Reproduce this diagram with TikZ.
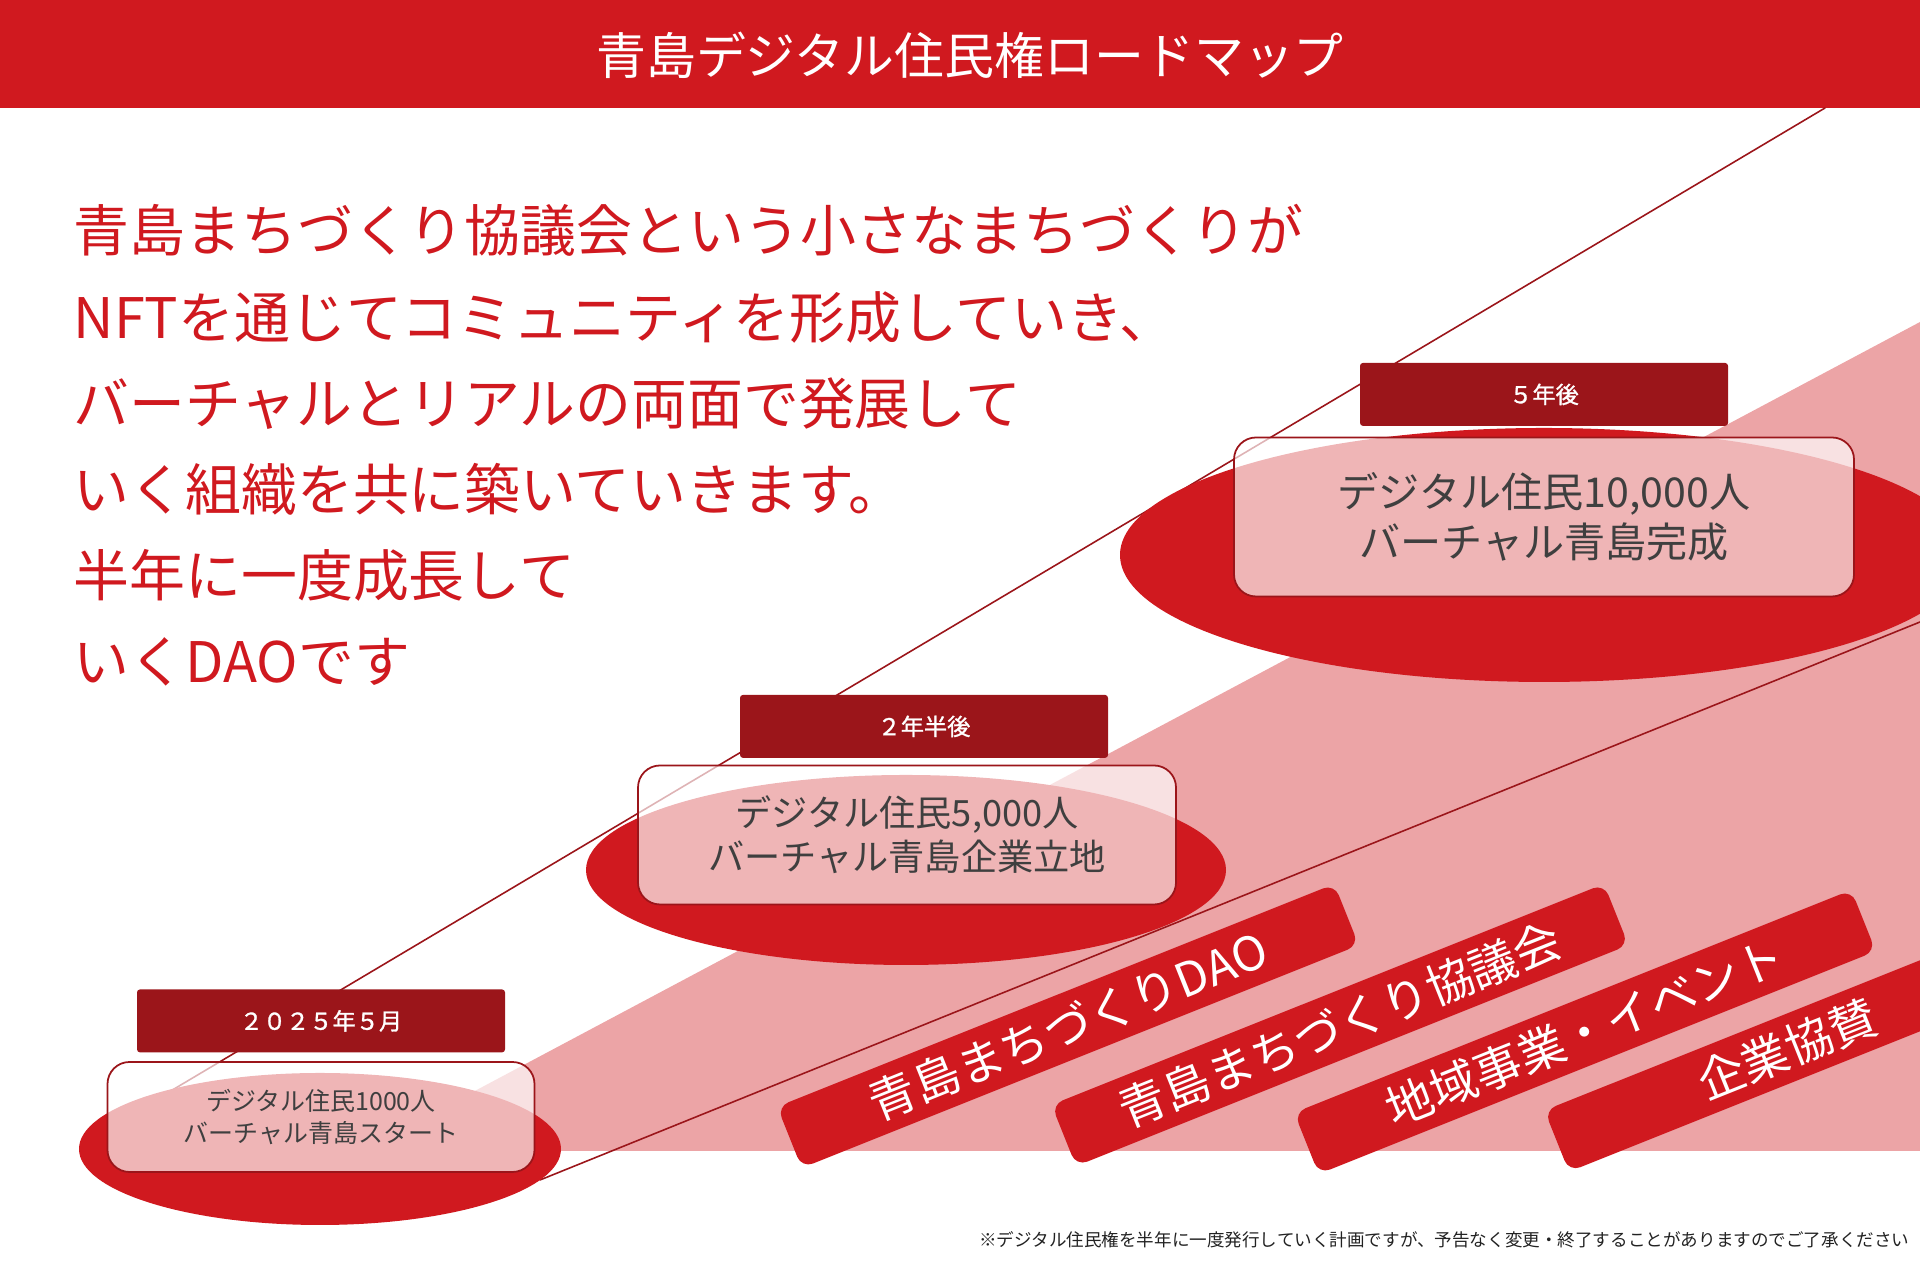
\documentclass[tikz,border=0pt]{standalone}
\usepackage{fontspec}
\setmainfont{Noto Sans CJK JP}
\newfontfamily\jpbold[FakeBold=1.2]{Noto Sans CJK JP}
\usetikzlibrary{positioning,shapes.geometric}
\definecolor{brand}{HTML}{D0191F}
\definecolor{deep}{HTML}{9B151A}
\definecolor{blush}{HTML}{ECA4A6}
\definecolor{ink}{HTML}{3F3F3F}
\definecolor{note}{HTML}{222222}
\tikzset{
  figbase/.style={
    line cap=round,
    line join=round,
  },
  guide/.style={draw=deep, line width=0.45pt},
  disc/.style={ellipse, fill=brand, draw=none, inner sep=0pt},
  panel/.style={
    draw=deep, line width=0.5pt,
    fill=white, fill opacity=0.68, text opacity=1,
    rounded corners=0.22cm,
    inner sep=0pt,
    align=center,
    text=ink,
  },
  stamp/.style={
    fill=deep, draw=none,
    rounded corners=0.03cm,
    inner sep=0pt,
    minimum width=3.68cm, minimum height=0.63cm,
    text=white,
    font=\jpbold\fontsize{6.6}{8}\selectfont,
  },
  ribbon/.style={
    fill=brand, draw=none,
    rounded corners=0.12cm,
    rotate=21.8,
    minimum height=0.66cm,
    inner sep=0pt,
    text=white,
    font=\fontsize{13.4}{15}\selectfont,
  },
}

\begin{document}
\begin{tikzpicture}[figbase]
  \clip (0,0) rectangle (19.2,12.8);

  % header
  \fill[brand] (0,11.72) rectangle (19.2,12.8);
  \node[text=white, inner sep=0pt, font=\fontsize{14.2}{16}\selectfont] (title) at (9.70,12.25)
    {青島デジタル住民権ロードマップ};

  % pink backdrop and thin guide lines
  \fill[blush] (3.62,1.29) -- (19.2,9.58) -- (19.2,1.29) -- cycle;
  \coordinate (g1a) at (18.25,11.72);
  \coordinate (g1b) at (1.00,1.47);
  \coordinate (g2a) at (5.40,1.00);
  \coordinate (g2b) at (19.2,6.58);
  \draw[guide] (g1a) -- (g1b);
  \draw[guide] (g2a) -- (g2b);

  % stages
  \node[disc, minimum width=8.48cm, minimum height=2.54cm] (e5) at (15.44,7.25) {};
  \node[disc, minimum width=6.40cm, minimum height=1.90cm] (e2) at (9.06,4.10) {};
  \node[disc, minimum width=4.82cm, minimum height=1.52cm] (e0) at (3.20,1.31) {};

  \node[panel, minimum width=6.20cm, minimum height=1.59cm,
        font=\fontsize{11.7}{14.2}\selectfont] (p5) at (15.44,7.63)
    {デジタル住民10,000人\\バーチャル青島完成};
  \node[panel, minimum width=5.38cm, minimum height=1.39cm,
        font=\fontsize{10.3}{12.5}\selectfont] (p2) at (9.07,4.45)
    {デジタル住民5,000人\\バーチャル青島企業立地};
  \node[panel, minimum width=4.27cm, minimum height=1.10cm,
        font=\fontsize{7.1}{9.1}\selectfont] (p0) at (3.21,1.63)
    {デジタル住民1000人\\バーチャル青島スタート};

  \node[stamp, above=0.10 of p5] (t5) {５年後};
  \node[stamp, above=0.06 of p2, xshift=0.17cm] (t2) {２年半後};
  \node[stamp, above=0.08 of p0] (t0) {２０２５年５月};

  % ribbons
  \node[ribbon, minimum width=6.00cm] (r1) at (10.68,2.54) {青島まちづくりDAO};
  \node[ribbon, minimum width=5.95cm] (r2) at (13.40,2.55) {青島まちづくり協議会};
  \node[ribbon, minimum width=6.00cm] (r3) at (15.85,2.48) {地域事業・イベント};
  \node[ribbon, minimum width=4.96cm] (r4) at (17.87,2.31) {企業協賛};

  % lead text
  \node[anchor=north west, align=left, inner sep=0pt, text=brand,
        font=\fontsize{15.9}{24.5}\selectfont] (lead) at (0.73,10.76)
    {青島まちづくり協議会という小さなまちづくりが\\
     NFTを通じてコミュニティを形成していき、\\
     バーチャルとリアルの両面で発展して\\
     いく組織を共に築いていきます。\\
     半年に一度成長して\\
     いくDAOです};

  \node[anchor=east, inner sep=0pt, text=note, font=\fontsize{5.0}{6}\selectfont] (fn) at (19.1,0.40)
    {※デジタル住民権を半年に一度発行していく計画ですが、予告なく変更・終了することがありますのでご了承ください};
\end{tikzpicture}
\end{document}
